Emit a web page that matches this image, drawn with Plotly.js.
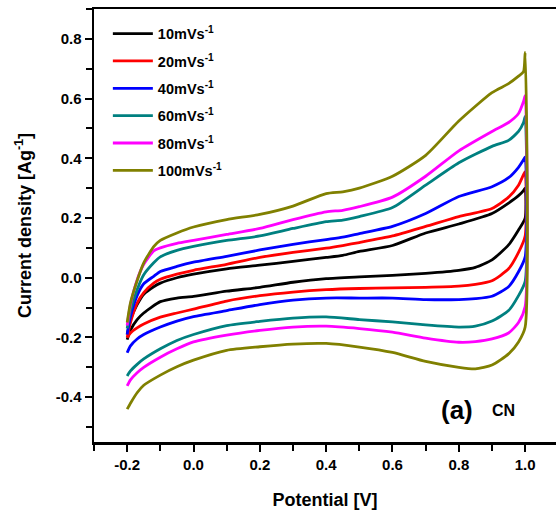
<!DOCTYPE html>
<html>
<head>
<meta charset="utf-8">
<script src="https://cdn.plot.ly/plotly-3.0.1.min.js"></script>
<style>
  html, body { margin: 0; padding: 0; background: #fff; }
  #plot { width: 556px; height: 516px; }
</style>
</head>
<body>
<div id="plot"></div>
<script>
// Cyclic voltammograms of the CN electrode at six scan rates.
const scanRates = ['10mVs<sup>-1</sup>', '20mVs<sup>-1</sup>', '40mVs<sup>-1</sup>',
                   '60mVs<sup>-1</sup>', '80mVs<sup>-1</sup>', '100mVs<sup>-1</sup>'];
const colors = ['#000000', '#ff0000', '#0000ff', '#008080', '#ff00ff', '#808000'];

// Anodic sweep potentials (V), -0.2 -> 1.0
const anodicV = [-0.2, -0.19, -0.17, -0.15, -0.12, -0.1, -0.05, 0, 0.1, 0.2, 0.3, 0.4, 0.45, 0.5,
                 0.6, 0.7, 0.8, 0.9, 0.95, 0.98, 0.995, 1.0];
// Cathodic sweep potentials (V), 1.0 -> -0.2
const cathodicV = [1.0, 0.98, 0.95, 0.9, 0.85, 0.8, 0.7, 0.6, 0.5, 0.4, 0.3, 0.2, 0.1, 0,
                   -0.05, -0.1, -0.15, -0.17, -0.19, -0.2];

// Current density (A/g) on the anodic sweep
const anodic10  = [-0.19, -0.14, -0.09, -0.055, -0.03, -0.018, 0.0, 0.012, 0.03, 0.042, 0.055, 0.068, 0.075, 0.088,
                   0.108, 0.15, 0.18, 0.215, 0.25, 0.275, 0.292, 0.30];
const anodic20  = [-0.2, -0.15, -0.085, -0.05, -0.018, -0.005, 0.012, 0.025, 0.045, 0.068, 0.085, 0.099, 0.108, 0.118,
                   0.14, 0.172, 0.205, 0.232, 0.27, 0.31, 0.345, 0.355];
const anodic40  = [-0.19, -0.13, -0.06, -0.02, 0.005, 0.021, 0.038, 0.052, 0.072, 0.093, 0.112, 0.128, 0.136, 0.148,
                   0.172, 0.215, 0.272, 0.305, 0.335, 0.37, 0.395, 0.405];
const anodic60  = [-0.17, -0.11, -0.04, 0.01, 0.05, 0.07, 0.092, 0.105, 0.125, 0.14, 0.165, 0.188, 0.193, 0.205,
                   0.235, 0.31, 0.385, 0.44, 0.46, 0.49, 0.52, 0.54];
const anodic80  = [-0.16, -0.09, -0.007, 0.045, 0.09, 0.1, 0.115, 0.125, 0.145, 0.165, 0.195, 0.221, 0.226, 0.238,
                   0.27, 0.34, 0.425, 0.49, 0.52, 0.55, 0.59, 0.61];
const anodic100 = [-0.15, -0.084, -0.01, 0.05, 0.104, 0.125, 0.15, 0.17, 0.195, 0.212, 0.24, 0.282, 0.288, 0.30,
                   0.34, 0.41, 0.525, 0.62, 0.65, 0.675, 0.69, 0.755];

// Current density (A/g) on the cathodic sweep
const cathodic10  = [0.20, 0.16, 0.11, 0.06, 0.035, 0.025, 0.015, 0.008, 0.003, -0.003, -0.015, -0.032, -0.045, -0.062,
                     -0.068, -0.08, -0.118, -0.14, -0.175, -0.207];
const cathodic20  = [0.14, 0.085, 0.03, -0.01, -0.022, -0.028, -0.032, -0.034, -0.036, -0.04, -0.048, -0.06, -0.078, -0.105,
                     -0.118, -0.132, -0.155, -0.168, -0.185, -0.201];
const cathodic40  = [0.07, 0.02, -0.03, -0.062, -0.07, -0.073, -0.073, -0.068, -0.068, -0.068, -0.075, -0.09, -0.11, -0.13,
                     -0.145, -0.165, -0.19, -0.205, -0.228, -0.251];
const cathodic60  = [-0.012, -0.06, -0.11, -0.145, -0.162, -0.165, -0.158, -0.148, -0.14, -0.131, -0.135, -0.146, -0.16, -0.19,
                     -0.21, -0.238, -0.272, -0.29, -0.312, -0.329];
const cathodic80  = [-0.096, -0.15, -0.185, -0.205, -0.214, -0.216, -0.202, -0.182, -0.17, -0.162, -0.165, -0.176, -0.192, -0.215,
                     -0.238, -0.266, -0.3, -0.318, -0.342, -0.362];
const cathodic100 = [-0.165, -0.215, -0.255, -0.292, -0.305, -0.3, -0.28, -0.25, -0.232, -0.22, -0.222, -0.231, -0.243, -0.276,
                     -0.298, -0.326, -0.36, -0.385, -0.42, -0.44];

const anodic = [anodic10, anodic20, anodic40, anodic60, anodic80, anodic100];
const cathodic = [cathodic10, cathodic20, cathodic40, cathodic60, cathodic80, cathodic100];

const xTicks = [-0.2, 0.0, 0.2, 0.4, 0.6, 0.8, 1.0];
const xTickText = ['-0.2', '0.0', '0.2', '0.4', '0.6', '0.8', '1.0'];
const yTicks = [-0.4, -0.2, 0.0, 0.2, 0.4, 0.6, 0.8];
const yTickText = ['-0.4', '-0.2', '0.0', '0.2', '0.4', '0.6', '0.8'];

const traces = scanRates.map((name, i) => ({
  type: 'scatter',
  mode: 'lines',
  name: name,
  legendgroup: 'g' + i,
  x: anodicV.concat(cathodicV),
  y: anodic[i].concat(cathodic[i]),
  line: { color: colors[i], width: 2.8, shape: 'spline', smoothing: 0.6 }
}));

const font = 'Liberation Sans, Arial, sans-serif';

const layout = {
  width: 556,
  height: 516,
  margin: { l: 94, r: 0, t: 9, b: 74 },
  paper_bgcolor: '#ffffff',
  plot_bgcolor: '#ffffff',
  showlegend: true,
  legend: {
    x: 0.03, y: 0.98, xanchor: 'left', yanchor: 'top',
    bgcolor: 'rgba(0,0,0,0)',
    font: { family: font, size: 14.5, color: '#000', weight: 'bold' },
    itemwidth: 40,
    tracegroupgap: 5.5
  },
  xaxis: {
    range: [-0.3, 1.093],
    showgrid: false, zeroline: false,
    showline: true, linecolor: '#000', linewidth: 2.5, mirror: true,
    ticks: 'outside', ticklen: 7, tickwidth: 2, tickcolor: '#000',
    tickvals: xTicks, ticktext: xTickText,
    minor: { dtick: 0.1, tick0: -0.3, ticks: 'outside', ticklen: 6, tickwidth: 2, tickcolor: '#000' },
    tickfont: { family: font, size: 15, color: '#000', weight: 'bold' },
    title: { text: 'Potential [V]', font: { family: font, size: 18, color: '#000', weight: 'bold' }, standoff: 22 }
  },
  yaxis: {
    range: [-0.55, 0.9],
    showgrid: false, zeroline: false,
    showline: true, linecolor: '#000', linewidth: 2.5, mirror: false,
    ticks: 'outside', ticklen: 7, tickwidth: 2, tickcolor: '#000',
    tickvals: yTicks, ticktext: yTickText,
    minor: { dtick: 0.1, tick0: -0.5, ticks: 'outside', ticklen: 6, tickwidth: 2, tickcolor: '#000' },
    tickfont: { family: font, size: 15, color: '#000', weight: 'bold' },
    title: { text: 'Current density [Ag<sup>-1</sup>]', font: { family: font, size: 18, color: '#000', weight: 'bold' }, standoff: 20 }
  },
  annotations: [
    { x: 0.795, y: -0.443, xref: 'x', yref: 'y', text: '(a)', showarrow: false,
      font: { family: font, size: 26, color: '#000', weight: 'bold' } },
    { x: 0.934, y: -0.443, xref: 'x', yref: 'y', text: 'CN', showarrow: false,
      font: { family: font, size: 16, color: '#000', weight: 'bold' } }
  ]
};

Plotly.newPlot('plot', traces, layout, { displayModeBar: false, staticPlot: true });
</script>
</body>
</html>
